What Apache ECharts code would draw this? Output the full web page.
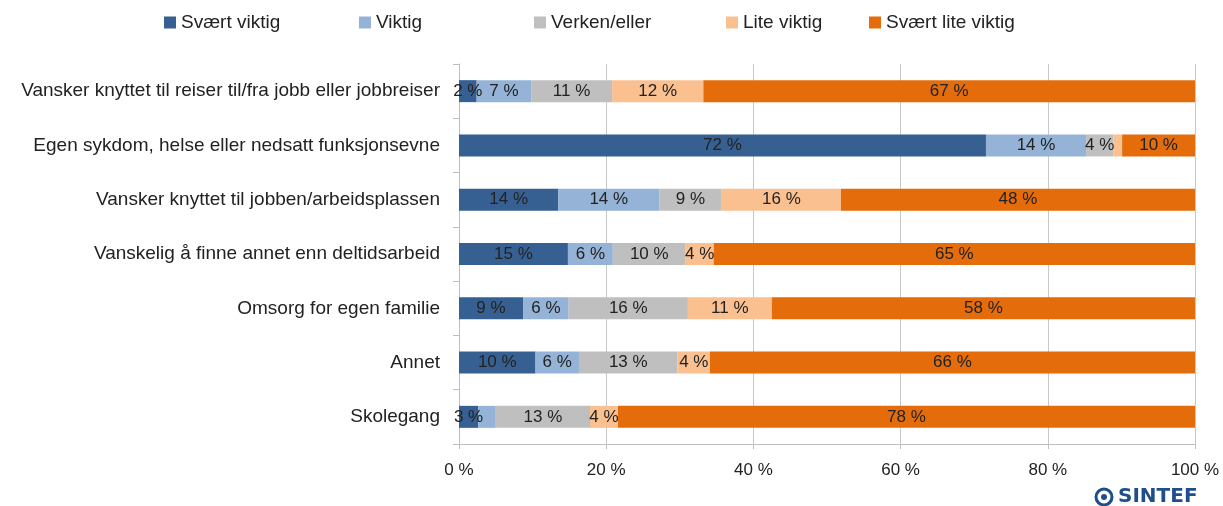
<!DOCTYPE html>
<html>
<head>
<meta charset="utf-8">
<script src="https://cdn.jsdelivr.net/npm/echarts@6/dist/echarts.min.js"></script>
<style>
  html, body { margin: 0; padding: 0; background: #fff; }
  #chart { width: 1223px; height: 506px; }
</style>
</head>
<body>
<div id="chart"></div>
<script>
const categories = [
  'Vansker knyttet til reiser til/fra jobb eller jobbreiser',
  'Egen sykdom, helse eller nedsatt funksjonsevne',
  'Vansker knyttet til jobben/arbeidsplassen',
  'Vanskelig å finne annet enn deltidsarbeid',
  'Omsorg for egen familie',
  'Annet',
  'Skolegang'
]
const seriesNames = ['Svært viktig', 'Viktig', 'Verken/eller', 'Lite viktig', 'Svært lite viktig']
const svaertViktig = [2.4, 71.6, 13.5, 14.8, 8.7, 10.4, 2.6]
const viktig = [7.4, 13.6, 13.7, 6.1, 6.2, 5.9, 2.4]
const verken = [11.0, 3.7, 8.5, 9.9, 16.2, 13.4, 12.8]
const liteViktig = [12.4, 1.2, 16.2, 3.8, 11.4, 4.4, 3.8]
const svaertLite = [66.8, 9.9, 48.1, 65.4, 57.5, 65.9, 78.4]
const xTicks = ['0 %', '20 %', '40 %', '60 %', '80 %', '100 %']
// [series index, category index] of segments without a data label
const hideLabel = [[3, 1], [1, 6]]

const colors = ['#376092', '#95b3d7', '#bfbfbf', '#fac090', '#e46c0a']
const legendLeft = [159, 354, 529, 721, 864]
const allValues = [svaertViktig, viktig, verken, liteViktig, svaertLite]

const chart = echarts.init(document.getElementById('chart'))

const series = seriesNames.map((name, si) => ({
  name: name,
  type: 'bar',
  stack: 'total',
  barWidth: 22,
  itemStyle: { color: colors[si] },
  label: {
    show: true,
    position: 'inside',
    color: '#222',
    fontSize: 17,
    fontFamily: 'Liberation Sans',
    formatter: p => Math.round(p.value) + ' %'
  },
  data: allValues[si].map((v, ci) => {
    const hidden = hideLabel.some(h => h[0] === si && h[1] === ci)
    return hidden ? { value: v, label: { show: false } } : v
  })
}))

const option = {
  animation: false,
  textStyle: { fontFamily: 'Liberation Sans' },
  legend: seriesNames.map((name, i) => ({
    data: [name],
    left: legendLeft[i],
    top: 8,
    itemWidth: 12,
    itemHeight: 12,
    icon: 'rect',
    itemGap: 5,
    textStyle: { fontSize: 19, color: '#222', fontFamily: 'Liberation Sans' }
  })),
  grid: { left: 459, right: 28, top: 64, bottom: 62 },
  xAxis: {
    type: 'value',
    min: 0,
    max: 100,
    interval: 20,
    axisLine: { show: true, lineStyle: { color: '#bfbfbf' } },
    axisTick: { show: true, length: 5, lineStyle: { color: '#bfbfbf' } },
    splitLine: { lineStyle: { color: '#c8c8c8' } },
    axisLabel: {
      fontSize: 17,
      color: '#222',
      margin: 18,
      formatter: v => xTicks[v / 20]
    }
  },
  yAxis: {
    type: 'category',
    inverse: true,
    data: categories,
    axisLine: { show: true, lineStyle: { color: '#bfbfbf' } },
    axisTick: { show: true, length: 6, lineStyle: { color: '#bfbfbf' } },
    axisLabel: { fontSize: 19, color: '#222', margin: 19 }
  },
  graphic: [
    {
      type: 'circle',
      shape: { cx: 1104, cy: 497, r: 8 },
      style: { fill: 'none', stroke: '#1f4e8c', lineWidth: 3 }
    },
    {
      type: 'circle',
      shape: { cx: 1104, cy: 497, r: 3 },
      style: { fill: '#1f4e8c' }
    },
    {
      type: 'text',
      left: 1118,
      top: 487,
      style: {
        text: 'SINTEF',
        fill: '#1f4e8c',
        font: 'bold 20px "DejaVu Sans"'
      }
    }
  ],
  series: series
}

chart.setOption(option)
window.addEventListener('resize', () => chart.resize())
</script>
</body>
</html>
